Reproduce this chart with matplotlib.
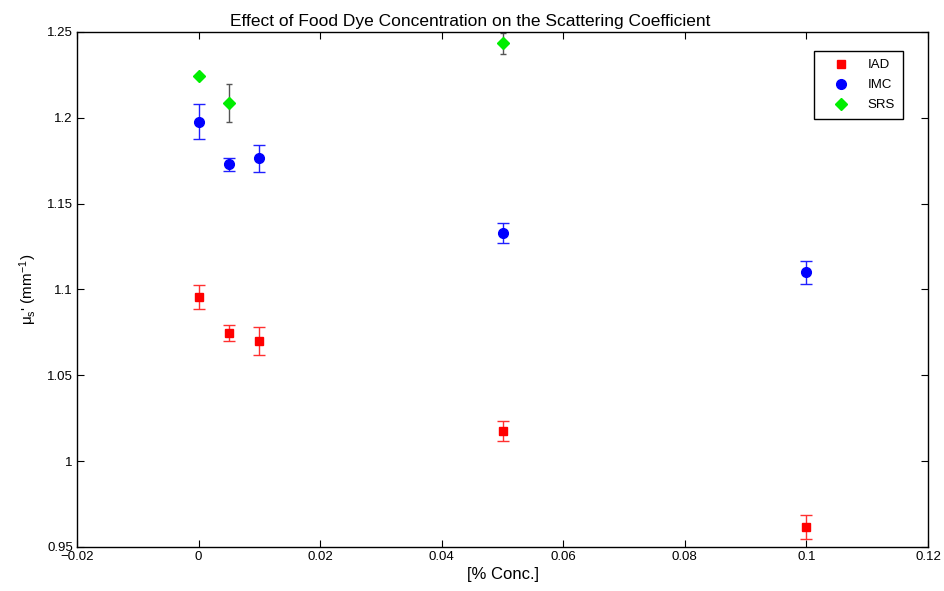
import matplotlib
matplotlib.use("Agg")
import matplotlib.pyplot as plt
from matplotlib.lines import Line2D

plt.rcParams['font.family'] = ['Liberation Sans', 'DejaVu Sans']
plt.rcParams['mathtext.default'] = 'regular'

# food dye concentration (%)
conc = [0, 0.005, 0.01, 0.05, 0.1]

iad = [1.0956, 1.0746, 1.0698, 1.0176, 0.9616]
iad_err = [0.0068, 0.0047, 0.0081, 0.0058, 0.0070]

imc = [1.1978, 1.1728, 1.1764, 1.1328, 1.1100]
imc_err = [0.0100, 0.0037, 0.0080, 0.0060, 0.0068]

srs_conc = [0, 0.005, 0.05]
srs = [1.2243, 1.2085, 1.2435]
srs_err = [0.0010, 0.0110, 0.0061]

fig = plt.figure(figsize=(9.45, 5.91), dpi=100)
ax = fig.add_axes([0.0815, 0.0745, 0.9005, 0.8715])

ax.errorbar(conc, iad, yerr=iad_err, fmt='s', color='red', ecolor='#ff3030',
            markersize=5.5, capsize=4.5, elinewidth=1)
ax.errorbar(conc, imc, yerr=imc_err, fmt='o', color='blue', ecolor='#2020ff',
            markersize=7, capsize=4.5, elinewidth=1)
ax.errorbar(srs_conc, srs, yerr=srs_err, fmt='D', color='#00ee00', ecolor='#555555',
            markersize=6, capsize=2.5, elinewidth=1)

ax.set_xlim(-0.02, 0.12)
ax.set_ylim(0.95, 1.25)
ax.set_xticks([-0.02, 0, 0.02, 0.04, 0.06, 0.08, 0.1, 0.12])
ax.set_xticklabels(['\u22120.02', '0', '0.02', '0.04', '0.06', '0.08', '0.1', '0.12'])
ax.set_yticks([0.95, 1.0, 1.05, 1.1, 1.15, 1.2, 1.25])
ax.set_yticklabels(['0.95', '1', '1.05', '1.1', '1.15', '1.2', '1.25'])
ax.tick_params(direction='in', top=True, right=True, labelsize=9.5, length=5, pad=3)
for s in ax.spines.values():
    s.set_linewidth(1)

ax.set_title('Effect of Food Dye Concentration on the Scattering Coefficient',
             fontsize=12.5, x=0.462, pad=4)
ax.set_xlabel('[% Conc.]', fontsize=12, labelpad=3)
ax.set_ylabel("\u03bc$_s$' (mm$^{-1}$)", fontsize=11, labelpad=6)

# marker-only legend entries
handles = [
    Line2D([], [], marker='s', color='red', linestyle='none', markersize=5.5),
    Line2D([], [], marker='o', color='blue', linestyle='none', markersize=7),
    Line2D([], [], marker='D', color='#00ee00', linestyle='none', markersize=6),
]
leg = ax.legend(handles, ['IAD', 'IMC', 'SRS'], loc='upper right',
                bbox_to_anchor=(0.9706, 0.963), borderaxespad=0, fontsize=9.5,
                fancybox=False, edgecolor='black', framealpha=1,
                handlelength=3.0, handletextpad=0.5, borderpad=0.6,
                labelspacing=0.6)
leg.get_frame().set_linewidth(1)

fig.savefig('out.png', dpi=100)
